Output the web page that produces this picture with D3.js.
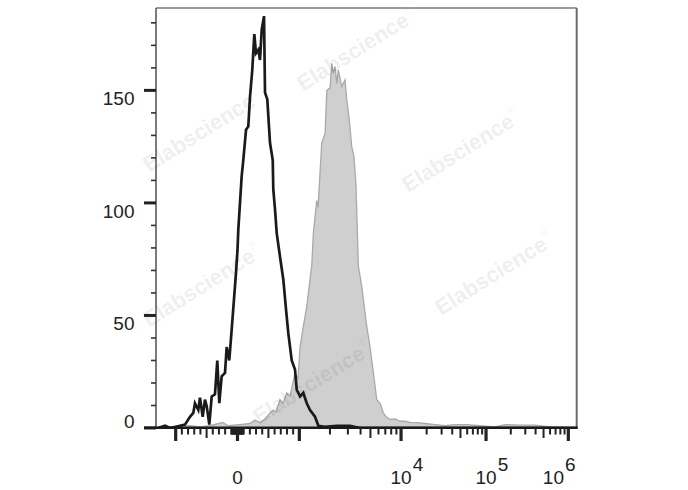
<!DOCTYPE html>
<html><head><meta charset="utf-8">
<script src="https://cdn.jsdelivr.net/npm/d3@7"></script>
<style>
body{margin:0;background:#fff}
svg{display:block}
text{font-family:"Liberation Sans",Arial,sans-serif}
</style>
</head><body>
<svg id="chart" width="688" height="490"></svg>
<script>
// x values are in display units of the biexponential axis:
// t = v/1000 for |v| <= 1000, otherwise sign(v) * (1 + log10(|v|/1000))
const blackT = [-1.32,-1.286,-1.173,-1.092,-0.930,-0.850,-0.769,-0.715,-0.688,-0.634,-0.607,-0.563,-0.526,-0.498,-0.456,-0.417,-0.364,-0.327,-0.294,-0.256,-0.202,-0.175,-0.133,-0.094,-0.057,-0.024,0,0.013,0.068,0.094,0.138,0.175,0.202,0.239,0.272,0.299,0.337,0.364,0.392,0.429,0.445,0.482,0.526,0.570,0.579,0.607,0.634,0.688,0.741,0.785,0.822,0.877,0.930,0.958,1.007,1.039,1.073,1.105,1.154,1.187,1.251,1.371,1.499,1.597,1.794,4.1];
const blackCount = [0,0,1,0,1,1.5,5,6.7,11,8,13.5,5,12.6,9.7,1.5,14,15,30,11,23,24.5,36,30,43.7,57,69,79,88,112,119,132.5,134,147,159,175,166.5,168,163.5,177,183,149,146,126.6,119,106,97,86.6,76,66,52.6,42,30,26,17,14,15.6,11,8,5,1,0.5,1,1,0,0,0];

const grayT = [-1.32,-1.011,-0.769,-0.607,-0.445,-0.235,-0.154,0.040,0.202,0.283,0.364,0.445,0.526,0.579,0.623,0.688,0.736,0.796,0.850,0.930,0.979,1.007,1.039,1.073,1.105,1.122,1.138,1.171,1.184,1.220,1.253,1.270,1.302,1.319,1.334,1.351,1.368,1.383,1.417,1.449,1.466,1.491,1.515,1.537,1.557,1.580,1.613,1.663,1.695,1.728,1.761,1.794,1.826,1.853,1.892,1.941,1.990,2.047,2.106,2.185,2.282,2.400,2.518,2.635,2.776,2.929,3.109,3.231,3.413,3.595,3.778,4.1];
const grayCount = [0,0.5,1,0.5,1,2.5,1,1.5,2,3.5,2.3,4,6.7,8,7,12.6,11,15.6,14,24.5,22,36,45,54,66,72,86.6,101,98,126.6,131,150,151,162,157.6,160.6,153,159,151.7,154.7,145.8,137,125,120.6,108,72,63,45,36,24.5,12.6,11,6.7,5,3.8,4,3,3,2.5,2.4,2,1.5,1,1.5,1.5,1,0.5,1.5,1.3,1.3,0.5,0];

const yMajorTicks = [0,50,100,150];
const yMinorTicks = [10,20,30,40,60,70,80,90,110,120,130,140,160,170,180];
const yMax = 186.6;

const xMajorTicks = [-1000,0,1000,10000,100000,1000000];
const xMidTicks = [-500,500,5000,50000,500000];
const xMinorTicks = [-900,-800,-700,-600,-400,-300,-200,-100,-90,-80,-70,-60,-50,-40,-30,-20,-10,
  10,20,30,40,50,60,70,80,90,100,200,300,400,600,700,800,900,
  2000,3000,4000,6000,7000,8000,9000,
  20000,30000,40000,60000,70000,80000,90000,
  200000,300000,400000,600000,700000,800000,900000];
const xLabelValues = [0,10000,100000,1000000];
const xLabelBase = ["0","10","10","10"];
const xLabelExp = ["","4","5","6"];

const watermarkText = "Elabscience";

// ---------- layout ----------
const L = 156, R = 576.7, T = 8, B = 428;
const anchorT = [-1,0,1,2,3,4];
const anchorFrac = [0.0468,0.1937,0.3407,0.5825,0.7845,0.9801];

function toT(v){
  const a = Math.abs(v);
  if (a <= 1000) return v/1000;
  return Math.sign(v)*(1+Math.log10(a/1000));
}

const x = d3.scaleLinear().domain(anchorT).range(anchorFrac.map(f => L + f*(R-L)));
const y = d3.scaleLinear().domain([0,yMax]).range([B,T]);

const svg = d3.select("#chart");
svg.append("defs").append("clipPath").attr("id","clip")
  .append("rect").attr("x",L).attr("y",T).attr("width",R-L).attr("height",B-T);

const gray = grayT.map((t,i)=>({t, c: grayCount[i]}));
const black = blackT.map((t,i)=>({t, c: blackCount[i]}));

const plot = svg.append("g").attr("clip-path","url(#clip)");

plot.append("path").datum(gray)
  .attr("d", d3.area().x(d=>x(d.t)).y0(y(0)).y1(d=>y(d.c)))
  .attr("fill","#cfcfcf").attr("stroke","#a9a9a9").attr("stroke-width",1.3);

plot.append("path").datum(black)
  .attr("d", d3.line().x(d=>x(d.t)).y(d=>y(d.c)))
  .attr("fill","none").attr("stroke","#1a1a1a").attr("stroke-width",2.7).attr("stroke-linejoin","miter");

// watermarks
const wmPos = [[206,137],[360,56],[465,157],[206,292],[316,389],[498,280]];
const wm = svg.append("g");
wmPos.forEach(p=>{
  const t = wm.append("text").attr("transform",`translate(${p[0]},${p[1]}) rotate(-32)`)
    .attr("text-anchor","middle").attr("font-size",22).attr("font-weight","bold")
    .attr("fill","#000").attr("fill-opacity",0.085);
  t.append("tspan").text(watermarkText);
  t.append("tspan").attr("font-size",10).attr("font-weight","normal").attr("dy",-12).text("®");
});

// frame
svg.append("line").attr("x1",L).attr("x2",R).attr("y1",T).attr("y2",T).attr("stroke","#7a7a7a").attr("stroke-width",1.5);
svg.append("line").attr("x1",R).attr("x2",R).attr("y1",T).attr("y2",B).attr("stroke","#6a6a6a").attr("stroke-width",2);
svg.append("line").attr("x1",L).attr("x2",L).attr("y1",T).attr("y2",B).attr("stroke","#5a5a5a").attr("stroke-width",1.6);

// y ticks
const gy = svg.append("g");
gy.selectAll(".ymin").data(yMinorTicks).join("line")
  .attr("x1",151).attr("x2",L).attr("y1",d=>y(d)).attr("y2",d=>y(d))
  .attr("stroke","#333").attr("stroke-width",1.6);
gy.selectAll(".ymaj").data(yMajorTicks).join("line")
  .attr("x1",144).attr("x2",L).attr("y1",d=>y(d)).attr("y2",d=>y(d))
  .attr("stroke","#222").attr("stroke-width",3);
gy.selectAll(".ylab").data(yMajorTicks).join("text")
  .attr("x",134.5).attr("y",d=>y(d) + (d===0 ? 0.3 : 14.7))
  .attr("text-anchor","end").attr("font-size",19).attr("fill","#222")
  .text(d=>d);

// x axis line
svg.append("line").attr("x1",144).attr("x2",R+1).attr("y1",B-0.3).attr("y2",B-0.3)
  .attr("stroke","#1a1a1a").attr("stroke-width",2.4);

// x ticks
const gx = svg.append("g");
gx.selectAll(".xmin").data(xMinorTicks).join("line")
  .attr("x1",d=>x(toT(d))).attr("x2",d=>x(toT(d))).attr("y1",B).attr("y2",B+6.5)
  .attr("stroke","#222").attr("stroke-width",2);
gx.selectAll(".xmid").data(xMidTicks).join("line")
  .attr("x1",d=>x(toT(d))).attr("x2",d=>x(toT(d))).attr("y1",B).attr("y2",B+10)
  .attr("stroke","#222").attr("stroke-width",2);
gx.selectAll(".xmaj").data(xMajorTicks).join("line")
  .attr("x1",d=>x(toT(d))).attr("x2",d=>x(toT(d))).attr("y1",B).attr("y2",B+13)
  .attr("stroke","#222").attr("stroke-width",3.2);

// x labels
xLabelValues.forEach((v,i)=>{
  const px = x(toT(v));
  if (xLabelExp[i] === "") {
    svg.append("text").attr("x",px).attr("y",484).attr("text-anchor","middle")
      .attr("font-size",19).attr("fill","#222").text(xLabelBase[i]);
  } else {
    const shift = (i === xLabelValues.length-1) ? -15 : 0;
    const t = svg.append("text").attr("x",px - 10.5 + shift).attr("y",483.5)
      .attr("font-size",19).attr("fill","#222");
    t.append("tspan").text(xLabelBase[i]);
    t.append("tspan").attr("dy",-12.5).attr("dx",1).text(xLabelExp[i]);
  }
});
</script>
</body></html>
